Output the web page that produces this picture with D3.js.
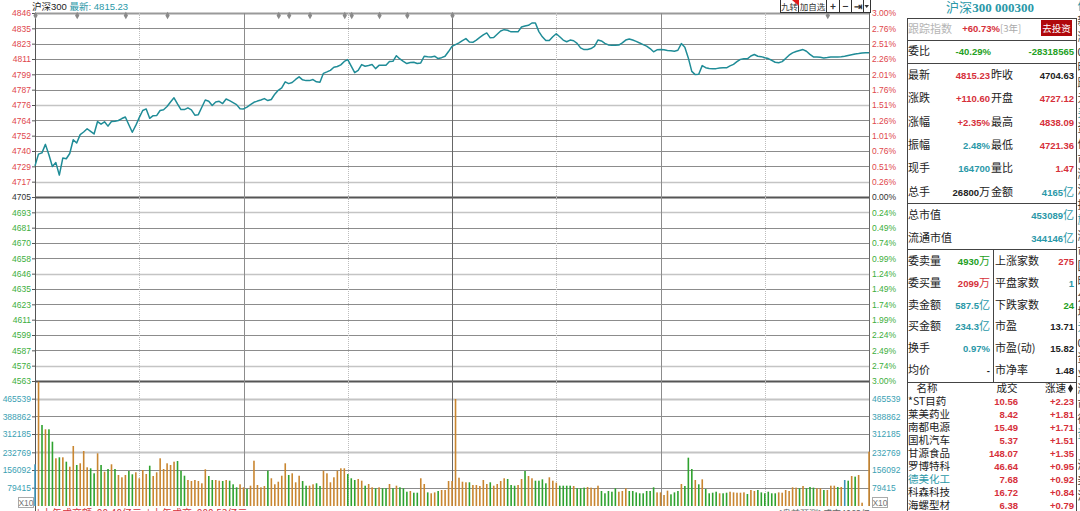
<!DOCTYPE html>
<html>
<head>
<meta charset="utf-8">
<script src="https://cdn.jsdelivr.net/npm/d3@7"></script>
<style>
body { margin: 0; background: #fff; overflow: hidden; }
svg { display: block; font-family: "Liberation Sans", Arial, "Noto Sans CJK SC", sans-serif; }
</style>
</head>
<body>
<script>
// ---------------------------------------------------------------------------
// data
// ---------------------------------------------------------------------------
var prevClose = 4704.63;

var priceLabels = ["4846","4835","4823","4811","4799","4787","4776","4764","4752","4740","4729","4717","4705",
                   "4693","4681","4670","4658","4646","4635","4623","4611","4599","4587","4576","4563"];
var pctLabels = ["3.00%","2.76%","2.51%","2.26%","2.01%","1.76%","1.51%","1.26%","1.01%","0.76%","0.51%","0.26%","0.00%",
                 "0.24%","0.49%","0.74%","0.99%","1.24%","1.49%","1.74%","1.99%","2.24%","2.49%","2.74%","3.00%"];
var volTicks = [465539, 388862, 312185, 232769, 156092, 79415];
var volMax = 542216;

// one value per minute, 09:30 .. 15:00
var prices = [
    4728.5,4737.5,4738.5,4745.0,4737.0,4728.0,4731.0,4721.4,4734.5,4734.0,
    4738.0,4748.5,4746.0,4752.5,4754.5,4757.0,4755.0,4753.0,4762.5,4760.5,
    4762.3,4759.0,4762.5,4762.8,4763.3,4764.8,4766.0,4760.0,4754.3,4759.5,
    4765.5,4771.0,4772.2,4765.0,4767.0,4767.1,4771.0,4771.6,4774.0,4777.5,
    4780.7,4776.0,4771.7,4771.7,4773.0,4771.5,4767.4,4767.8,4773.5,4779.0,
    4778.1,4774.8,4777.5,4778.0,4776.3,4779.8,4778.5,4777.0,4775.5,4772.3,
    4772.2,4773.6,4775.5,4777.3,4778.2,4779.0,4780.1,4778.6,4779.4,4783.5,
    4786.5,4788.3,4793.0,4791.6,4792.5,4794.8,4796.8,4794.5,4793.9,4793.9,
    4794.7,4793.0,4792.7,4799.5,4800.6,4801.8,4804.2,4804.7,4806.0,4808.6,
    4810.0,4805.0,4800.0,4801.8,4806.2,4804.9,4805.5,4806.2,4803.1,4805.6,
    4805.7,4805.7,4808.6,4808.7,4813.0,4810.5,4808.7,4807.0,4807.8,4808.0,
    4807.0,4807.5,4812.6,4812.3,4812.1,4812.6,4810.8,4811.5,4812.6,4816.2,
    4820.2,4821.5,4822.8,4824.5,4826.1,4823.5,4823.3,4825.0,4827.0,4829.0,
    4830.5,4826.7,4827.0,4829.5,4832.0,4833.0,4832.5,4831.3,4831.3,4831.3,
    4835.0,4835.8,4836.3,4838.1,4838.1,4831.5,4827.5,4824.6,4824.6,4827.5,
    4829.9,4827.5,4825.0,4823.7,4825.0,4824.5,4822.5,4819.0,4817.7,4817.7,
    4818.5,4820.2,4825.0,4824.3,4822.5,4821.3,4821.0,4821.0,4821.2,4822.8,
    4825.0,4825.8,4825.0,4824.0,4822.8,4821.5,4820.4,4818.5,4816.0,4817.5,
    4817.7,4817.5,4817.0,4816.8,4816.5,4817.2,4822.3,4819.5,4811.3,4801.0,
    4798.5,4798.8,4805.4,4803.8,4803.2,4803.1,4803.1,4803.5,4803.7,4803.7,
    4805.2,4806.4,4808.4,4810.2,4810.6,4810.6,4812.8,4813.9,4812.6,4812.3,
    4811.5,4810.8,4809.5,4808.0,4807.6,4808.5,4810.8,4813.4,4815.2,4816.2,
    4817.0,4817.7,4816.4,4814.0,4812.1,4812.1,4811.8,4811.3,4811.6,4812.1,
    4812.1,4812.1,4812.3,4812.6,4813.2,4813.8,4814.4,4814.7,4815.1,4815.3,
    4815.23
];

var volumes = [
    180900,539000,351400,332700,332700,279000,206900,211200,211200,192200,
    170500,260300,177900,185200,238600,167900,163500,141800,228600,177900,
    148800,160500,180900,160500,134500,124500,134500,151800,137500,146200,
    120200,156200,138800,174800,130100,146200,206900,160500,185200,177900,
    192200,195200,153100,131400,112800,108400,112800,108400,98500,159200,
    130100,112800,112800,109800,108400,112800,109800,94100,81100,94100,
    81100,73700,88100,196500,91100,81100,86800,153100,120200,94100,
    105400,131400,185200,134500,141800,102800,131400,108400,88100,88100,
    94100,98500,86800,153100,141800,102800,124500,153100,163500,163500,
    138800,120200,112800,117100,109800,88100,95400,81100,76800,81100,
    76800,76800,95400,76800,88100,81100,76800,62000,65100,57700,
    57700,120200,95400,59100,55100,59100,65100,69400,69400,108400,
    108400,464100,122800,105400,102800,102800,91100,91100,86800,112800,
    95400,102800,88100,95400,108400,120200,117100,91100,88100,91100,
    117100,151800,130100,120200,109800,109800,115700,98500,124500,109800,
    101300,88100,88100,88100,88100,86800,76800,76800,79700,82500,
    79700,76800,88100,65100,55100,65100,62000,76800,62000,65100,
    76800,65100,65100,59100,55100,55100,65100,65100,81100,59100,
    59100,47700,66600,50600,59100,65100,95400,86800,209600,160500,
    112800,94100,115700,73700,55100,57700,62000,55100,55100,57700,
    62000,59100,57700,57700,59100,52100,69400,65100,69400,59100,
    55100,62000,55100,55100,59100,57700,69400,65100,81100,79700,
    76800,86800,76800,82500,79700,76800,76800,69400,69400,88100,
    88100,82500,82500,112800,109800,130100,127300,134500,14300,0,
    235500
];

// u = up (orange), d = down (green), n = neutral (blue)
var volDir = ["nududdudud","uuduuuddud","ududuuuddu","uuuduuuuuu","uddduuuuuu",
              "dduududddu","uduuuuuduu","uuuduuuddu","udduuuuuuu","ddduuduudu",
              "ddududddud","duuduuduuu","uuuuuduuuu","uduuuudddu","uduudddduu",
              "uddddudddu","uuuddddduu","uddddddddu","uuuddduddd","ududdddudd",
              "uuuuuduudd","dddduuuuuu","duddduuduu","udunduduun","u"].join("").split("");

// info-mine markers along the top edge (minute index)
var eventMinutes = [0, 12, 26, 38, 70, 73, 79, 89, 91, 99, 107, 120, 228];

// right-hand quote panel
var quoteRows = [
    ["最新", "4815.23", "r", "昨收", "4704.63", "k"],
    ["涨跌", "+110.60", "r", "开盘", "4727.12", "r"],
    ["涨幅", "+2.35%", "r", "最高", "4838.09", "r"],
    ["振幅", "2.48%", "t", "最低", "4721.36", "r"],
    ["现手", "164700", "t", "量比", "1.47", "r"],
    ["总手", "26800万", "k", "金额", "4165亿", "t"]
];
var capRows = [["总市值", "453089亿"], ["流通市值", "344146亿"]];
var bookRows = [
    ["委卖量", "4930万", "g", "上涨家数", "275", "r"],
    ["委买量", "2099万", "r", "平盘家数", "1", "t"],
    ["卖金额", "587.5亿", "t", "下跌家数", "24", "g"],
    ["买金额", "234.3亿", "t", "市盈", "13.71", "k"],
    ["换手", "0.97%", "t", "市盈(动)", "15.82", "k"],
    ["均价", "-", "k", "市净率", "1.48", "k"]
];
var stockNames = ["*ST目药","莱美药业","南都电源","国机汽车","甘源食品","罗博特科","德美化工","科森科技","海螺型材"];
var stockPrices = ["10.56","8.42","15.49","5.37","148.07","46.64","7.68","16.72","6.38"];
var stockSpeed = ["+2.23","+1.81","+1.71","+1.51","+1.35","+0.95","+0.92","+0.84","+0.79"];

// ---------------------------------------------------------------------------
// layout  (note: "top" is a read-only window global, so use plot* names)
// ---------------------------------------------------------------------------
var W = 1080, H = 511;
var plotLeft = 35, plotRight = 869, plotTop = 13, plotBot = 381, volBot = 506;
var RED = "#d6303a", GREEN = "#23a023", TEAL = "#2a98a8", BLACK = "#222";
var colorOf = { r: RED, g: GREEN, t: TEAL, k: BLACK };
var cjk = "'Noto Sans CJK SC', sans-serif";

var svg = d3.select("body").append("svg")
    .attr("width", W)
    .attr("height", H);

var x = d3.scaleLinear().domain([0, 240]).range([plotLeft, plotRight]);
var y = d3.scaleLinear().domain([prevClose * 0.97, prevClose * 1.03]).range([plotBot, plotTop]);
var yVol = d3.scaleLinear().domain([0, volMax]).range([volBot, plotBot]);

var priceTickVals = d3.range(25).map(function(i) { return prevClose * (1.03 - i * 0.0025); });
var lightRows = [6, 11, 13, 17, 23];

// horizontal grid (price pane)
svg.append("g").selectAll("line")
    .data(priceTickVals)
    .join("line")
    .attr("x1", plotLeft).attr("x2", plotRight)
    .attr("y1", function(d) { return Math.round(y(d)) + 0.5; })
    .attr("y2", function(d) { return Math.round(y(d)) + 0.5; })
    .attr("stroke", function(d, i) {
        if(i === 0) return "#9a9a9a";
        if(i === 12 || i === 24) return "#555";
        return lightRows.indexOf(i) >= 0 ? "#c4c4c4" : "#8c8c8c";
    })
    .attr("stroke-width", function(d, i) {
        if(i === 0 || i === 12 || i === 24) return 2;
        return lightRows.indexOf(i) >= 0 ? 1.6 : 1;
    });

// horizontal grid (volume pane)
svg.append("g").selectAll("line")
    .data(volTicks)
    .join("line")
    .attr("x1", plotLeft).attr("x2", plotRight)
    .attr("y1", function(d) { return Math.round(yVol(d)) + 0.5; })
    .attr("y2", function(d) { return Math.round(yVol(d)) + 0.5; })
    .attr("stroke", function(d, i) { return (i === 0 || i === 3) ? "#c4c4c4" : "#8c8c8c"; })
    .attr("stroke-width", function(d, i) { return (i === 0 || i === 3) ? 1.8 : 1; });

// vertical grid: every half hour
var halfHours = [30, 60, 90, 120, 150, 180, 210];
svg.append("g").selectAll("line")
    .data(halfHours)
    .join("line")
    .attr("x1", function(d) { return Math.round(x(d)) + 0.5; })
    .attr("x2", function(d) { return Math.round(x(d)) + 0.5; })
    .attr("y1", plotTop).attr("y2", volBot)
    .attr("stroke", function(d) { return d === 120 ? "#666" : (d % 60 === 0 ? "#8c8c8c" : "#bdbdbd"); })
    .attr("stroke-dasharray", function(d) { return d % 60 === 0 ? null : "1,1"; });

// pane borders
svg.append("line").attr("x1", plotLeft + 0.5).attr("x2", plotLeft + 0.5).attr("y1", plotTop).attr("y2", H)
    .attr("stroke", "#555");
svg.append("line").attr("x1", plotRight + 0.5).attr("x2", plotRight + 0.5).attr("y1", plotTop).attr("y2", volBot)
    .attr("stroke", "#666");

// axes ------------------------------------------------------------------------
function styleAxis(g, colorFn) {
    g.select(".domain").remove();
    g.attr("font-family", "'Liberation Sans', Arial, sans-serif").attr("font-size", 8.5);
    g.selectAll(".tick line").attr("stroke", "#555");
    g.selectAll(".tick text").attr("fill", colorFn);
}

var priceColor = function(d, i) { return i < 12 ? "#e0474c" : (i === 12 ? "#333" : "#3cae3c"); };

svg.append("g")
    .attr("transform", "translate(" + plotLeft + ",0)")
    .call(d3.axisLeft(y).tickValues(priceTickVals).tickSize(3).tickPadding(1)
        .tickFormat(function(d, i) { return priceLabels[i]; }))
    .call(styleAxis, priceColor);

svg.append("g")
    .attr("transform", "translate(" + plotRight + ",0)")
    .call(d3.axisRight(y).tickValues(priceTickVals).tickSize(0).tickPadding(3)
        .tickFormat(function(d, i) { return pctLabels[i]; }))
    .call(styleAxis, priceColor);

svg.append("g")
    .attr("transform", "translate(" + plotLeft + ",0)")
    .call(d3.axisLeft(yVol).tickValues(volTicks).tickSize(3).tickPadding(1)
        .tickFormat(function(d, i) { return String(volTicks[i]); }))
    .call(styleAxis, function() { return "#3b9fb3"; });

svg.append("g")
    .attr("transform", "translate(" + plotRight + ",0)")
    .call(d3.axisRight(yVol).tickValues(volTicks).tickSize(0).tickPadding(3)
        .tickFormat(function(d, i) { return String(volTicks[i]); }))
    .call(styleAxis, function() { return "#3b9fb3"; });

// X10 boxes
[[18, 497], [872, 497]].forEach(function(p) {
    svg.append("rect").attr("x", p[0] + 0.5).attr("y", p[1] + 0.5).attr("width", 15).attr("height", 10)
        .attr("fill", "#fff").attr("stroke", "#aaa");
    svg.append("text").attr("x", p[0] + 8).attr("y", p[1] + 8.5).attr("text-anchor", "middle")
        .attr("font-size", 8.5).attr("fill", "#777").text("X10");
});

// volume bars ------------------------------------------------------------------
var barColor = { u: "#c98630", d: "#2ea22e", n: "#3a93b8" };
svg.append("g").selectAll("rect")
    .data(volumes)
    .join("rect")
    .attr("x", function(d, i) { return x(i) - 0.75; })
    .attr("width", 1.6)
    .attr("y", function(d) { return yVol(d); })
    .attr("height", function(d) { return volBot - yVol(d); })
    .attr("fill", function(d, i) { return barColor[volDir[i]]; });

// price line -------------------------------------------------------------------
var line = d3.line()
    .x(function(d, i) { return x(i); })
    .y(function(d) { return y(d); });

svg.append("path")
    .datum(prices)
    .attr("d", line)
    .attr("fill", "none")
    .attr("stroke", "#1f8c97")
    .attr("stroke-width", 1.5)
    .attr("stroke-linejoin", "round");

// event diamonds
svg.append("g").selectAll("path")
    .data(eventMinutes)
    .join("path")
    .attr("transform", function(d) { return "translate(" + (x(d) + 0.5) + ",15.5)"; })
    .attr("d", d3.symbol().type(d3.symbolDiamond).size(16))
    .attr("fill", "#8a8a8a");

// header ------------------------------------------------------------------------
var head = svg.append("text").attr("x", 32).attr("y", 9.5).attr("font-size", 9.5);
head.append("tspan").attr("font-family", cjk).attr("fill", "#222").text("沪深");
head.append("tspan").attr("fill", "#222").text("300 ");
head.append("tspan").attr("font-family", cjk).attr("fill", TEAL).text("最新");
head.append("tspan").attr("fill", TEAL).text(": 4815.23");

// toolbar
var tools = [[780, 18, "九转"], [798, 28, "加自选"], [826, 13, "+"], [839, 12, "−"], [851, 12, "⇥"], [863, 7, ""]];
tools.forEach(function(t) {
    svg.append("rect").attr("x", t[0] + 0.5).attr("y", -0.5).attr("width", t[1]).attr("height", 13)
        .attr("fill", "#fff").attr("stroke", "#333");
    svg.append("text").attr("x", t[0] + t[1] / 2 + 0.5).attr("y", 10).attr("text-anchor", "middle")
        .attr("font-family", cjk).attr("font-size", t[2].length > 1 ? 8.5 : 10)
        .attr("font-weight", t[2].length > 1 ? null : "bold")
        .attr("fill", "#333").text(t[2]);
});
svg.append("path").attr("d", "M864.5,5 L869,5 L866.7,8 Z").attr("fill", "#333");
svg.append("path").attr("d", "M792,0 L799,0 L799,6 Z").attr("fill", "#e01818");

// right panel -------------------------------------------------------------------
var P = svg.append("g").attr("font-size", 9.5);
var pL = 907, pR = 1076, pMid = 993, vR = 990, vR2 = 1074;

P.append("text").attr("x", 990).attr("y", 12).attr("text-anchor", "middle")
    .attr("font-family", "'Liberation Serif', 'DejaVu Serif', serif").attr("font-size", 13).attr("font-weight", "bold")
    .attr("fill", TEAL)
    .call(function(t) {
        t.append("tspan").attr("font-family", "'Noto Sans CJK SC', serif").attr("font-weight", "normal").text("沪深");
        t.append("tspan").text("300 000300");
    });

[18, 40, 63, 203, 249, 382].forEach(function(yy) {
    P.append("line").attr("x1", pL).attr("x2", pR).attr("y1", yy + 0.5).attr("y2", yy + 0.5).attr("stroke", "#444");
});
P.append("line").attr("x1", pL + 0.5).attr("x2", pL + 0.5).attr("y1", 18).attr("y2", H).attr("stroke", "#444");
P.append("line").attr("x1", pR + 0.5).attr("x2", pR + 0.5).attr("y1", 18).attr("y2", H).attr("stroke", "#444");
P.append("line").attr("x1", pMid + 0.5).attr("x2", pMid + 0.5).attr("y1", 249).attr("y2", 382).attr("stroke", "#444");

function label(xx, yy, txt, col, anchor, size) {
    return P.append("text").attr("x", xx).attr("y", yy).attr("font-family", cjk).attr("font-size", size || 11)
        .attr("fill", col || BLACK).attr("text-anchor", anchor || "start").text(txt);
}
// value: digits bold, trailing unit (万 / 亿) as CJK
function value(xx, yy, txt, col) {
    var t = P.append("text").attr("x", xx).attr("y", yy).attr("text-anchor", "end")
        .attr("fill", col).attr("font-weight", "bold").attr("font-size", 9.5);
    var last = txt.slice(-1);
    if(last === "万" || last === "亿") {
        t.append("tspan").text(txt.slice(0, -1));
        t.append("tspan").attr("font-family", cjk).attr("font-weight", "normal").attr("font-size", 11).text(last);
    } else {
        t.text(txt);
    }
    return t;
}

// tracking row
label(908, 33, "跟踪指数", "#b5b5b5");
value(1000, 32, "+60.73%", RED);
P.append("text").attr("x", 1000).attr("y", 32).attr("font-family", cjk).attr("font-size", 9.5)
    .attr("fill", "#aaa").text("[3年]");
P.append("rect").attr("x", 1041).attr("y", 20).attr("width", 31).attr("height", 16).attr("fill", "#b0080b");
P.append("text").attr("x", 1056.5).attr("y", 31.5).attr("text-anchor", "middle").attr("font-family", cjk)
    .attr("font-size", 9.5).attr("fill", "#fff").text("去投资");

// 委比
label(908, 55, "委比");
value(991, 55, "-40.29%", GREEN);
value(vR2, 55, "-28318565", GREEN);

quoteRows.forEach(function(r, i) {
    var yy = 79 + i * 23.3;
    label(908, yy, r[0]);
    value(vR, yy, r[1], colorOf[r[2]]);
    label(991, yy, r[3]);
    value(vR2, yy, r[4], colorOf[r[5]]);
});

capRows.forEach(function(r, i) {
    var yy = 219 + i * 23;
    label(908, yy, r[0]);
    value(vR2, yy, r[1], TEAL);
});

bookRows.forEach(function(r, i) {
    var yy = 265 + i * 21.8;
    label(908, yy, r[0]);
    value(vR, yy, r[1], colorOf[r[2]]);
    label(995, yy, r[3]);
    value(vR2, yy, r[4], colorOf[r[5]]);
});

// list header
label(927, 392, "名称", BLACK, "middle", 10.5);
label(1007, 392, "成交", BLACK, "middle", 10.5);
label(1066, 392, "涨速", BLACK, "end", 10.5);
P.append("path").attr("transform", "translate(1070.5,388.5)")
    .attr("d", d3.symbol().type(d3.symbolDiamond).size(22)).attr("fill", "#222");

stockNames.forEach(function(n, i) {
    var yy = 405 + i * 13.05;
    label(908, yy, n, i === 6 ? TEAL : BLACK, "start", 10.5);
    value(1018, yy, stockPrices[i], RED);
    value(vR2, yy, stockSpeed[i], RED);
});

// neighbouring panel, clipped at the window edge
svg.append("clipPath").attr("id", "edge").append("rect").attr("x", 1077).attr("y", 0).attr("width", 3).attr("height", H);
var edgeChars = ["何","新","涨","0","时","跌","元","买","资","何","市","涨","流","投","旗","涨","市","国","时","分","均","元","0","资","业","涨","市","德","资","·","海","美","沪"];
svg.append("g").attr("clip-path", "url(#edge)").selectAll("text")
    .data(edgeChars)
    .join("text")
    .attr("x", 1077.5)
    .attr("y", function(d, i) { return 10 + i * 15.3; })
    .attr("font-family", cjk).attr("font-size", 11)
    .attr("fill", function(d, i) { return i % 7 === 0 ? TEAL : "#333"; })
    .text(function(d) { return d; });

// footer strip, mostly below the window
svg.append("text").attr("x", 37).attr("y", 517).attr("font-family", cjk).attr("font-size", 10)
    .attr("fill", RED).text("| 上午成交额: 90.40亿元;  | 上午成交: 900.52亿元;");
svg.append("text").attr("x", 779).attr("y", 517).attr("font-family", cjk).attr("font-size", 9)
    .attr("fill", "#666").text("[盘前预测] 成交4063亿");
</script>
</body>
</html>
